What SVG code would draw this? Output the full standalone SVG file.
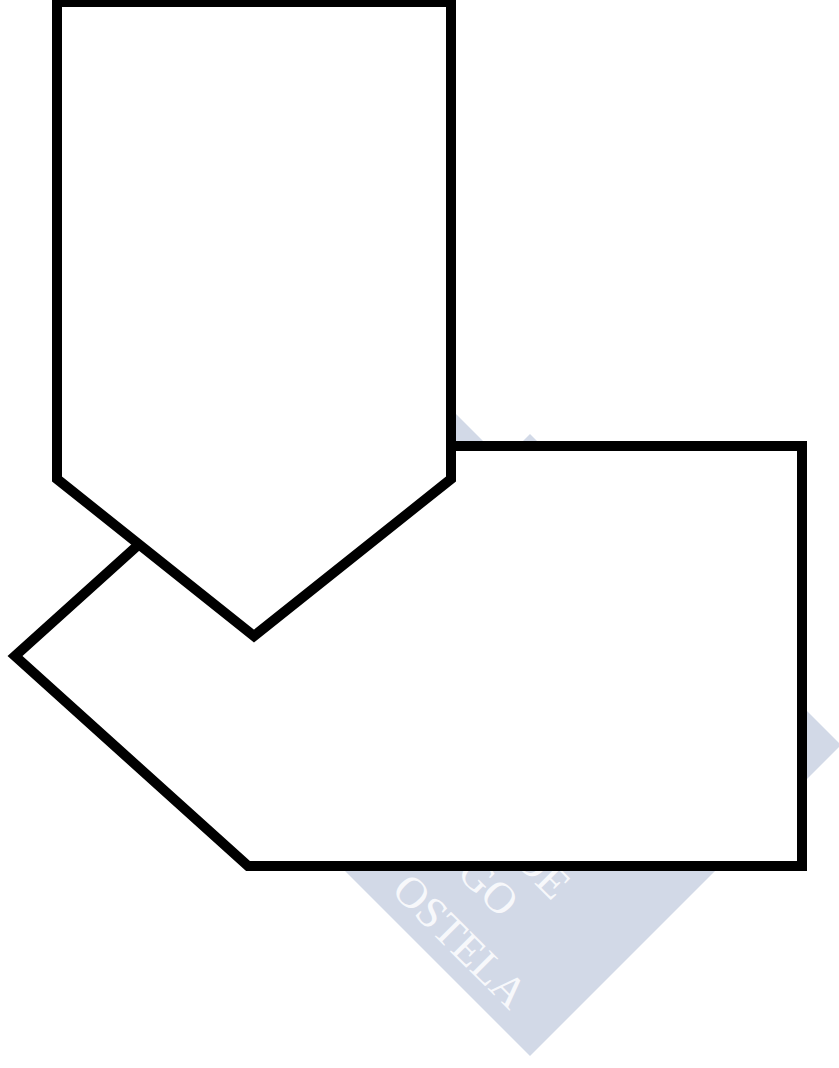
<svg xmlns="http://www.w3.org/2000/svg" width="839" height="1068" viewBox="0 0 839 1068">
  <style>
    .shape { fill: #ffffff; stroke: #000000; stroke-width: 10; stroke-linejoin: miter; stroke-miterlimit: 10; }
    .wm { fill: #d2d9e7; }
    .wmtext { font-family: "Liberation Serif", "Times New Roman", serif; font-size: 44px; fill: #f7f8fb; }
  </style>
  <rect x="0" y="0" width="839" height="1068" fill="#ffffff"/>
  <g id="watermark">
    <polygon class="wm" points="456,414 503,461 332,632 285,585"/>
    <polygon class="wm" points="530,434 841,745 530,1056 219,745"/>
    <g transform="translate(530,745) rotate(45)">
      <text class="wmtext" x="68" y="95">DE</text>
      <text class="wmtext" x="39" y="144">GO</text>
      <text class="wmtext" x="5" y="202.5">OSTELA</text>
    </g>
  </g>
  <g id="node-left-pentagon">
    <polygon class="shape" points="15,656 248,446 802,446 802,866 248,866"/>
  </g>
  <g id="node-down-pentagon">
    <polygon class="shape" points="57,2 451,2 451,479 254,636 57,479"/>
  </g>
</svg>
